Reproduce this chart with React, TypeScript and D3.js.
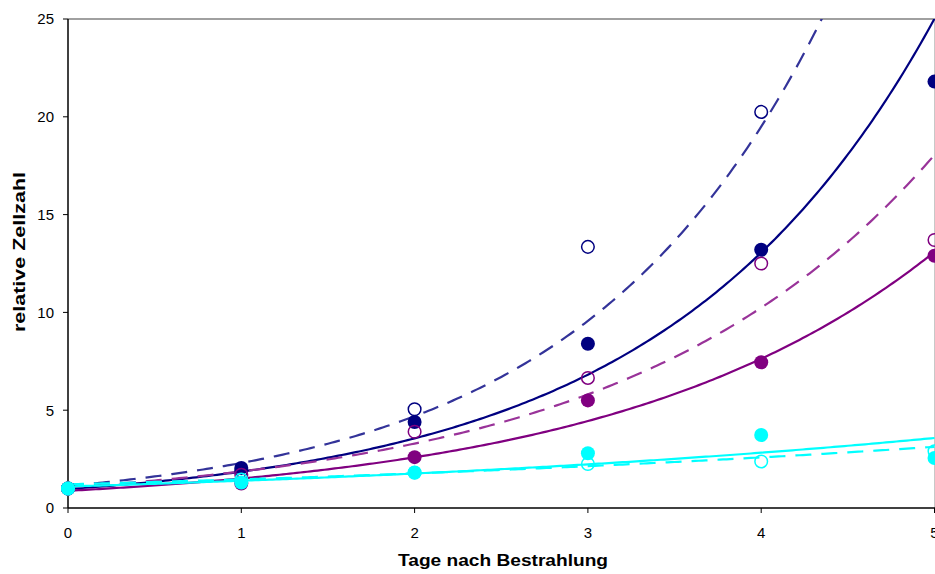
import * as d3 from 'd3'

const DAYS = [0, 1, 2, 3, 4, 5]
const Y_TICKS = [0, 5, 10, 15, 20, 25]
const X_TICKS = [0, 1, 2, 3, 4, 5]

// measured relative cell counts (filled = solid marker, open = ring marker)
const NAVY_FILLED = [1.0, 2.05, 4.4, 8.4, 13.2, 21.8]
const NAVY_OPEN = [1.0, 1.9, 5.05, 13.35, 20.25, null]
const PURPLE_FILLED = [1.0, 1.25, 2.6, 5.5, 7.45, 12.9]
const PURPLE_OPEN = [1.0, 1.7, 3.9, 6.65, 12.5, 13.7]
const CYAN_FILLED = [1.0, 1.3, 1.82, 2.8, 3.73, 2.56]
const CYAN_OPEN = [1.0, 1.45, 1.8, 2.25, 2.38, 2.9]

// exponential trendlines y = a * exp(b * x)
const TREND_NAMES = ['navySolid', 'navyDash', 'purpleSolid', 'purpleDash', 'cyanSolid', 'cyanDash']
const TREND_A = [0.97, 1.13, 0.88, 1.06, 1.1, 1.21]
const TREND_B = [0.65, 0.712, 0.54, 0.567, 0.236, 0.19]

const NAVY = '#000080'
const PURPLE = '#800080'
const CYAN = '#00FFFF'

const width = 935
const height = 574
const left = 68
const right = 934.5
const top = 19
const bottom = 508

export default function App() {
  const x = d3.scaleLinear().domain([0, 5]).range([left, right])
  const y = d3.scaleLinear().domain([0, 25]).range([bottom, top])

  // drawing order: cyan filled last so it sits on top at day 0
  const series = [
    { values: NAVY_FILLED, color: NAVY, filled: true },
    { values: NAVY_OPEN, color: NAVY, filled: false },
    { values: PURPLE_FILLED, color: PURPLE, filled: true },
    { values: PURPLE_OPEN, color: PURPLE, filled: false },
    { values: CYAN_OPEN, color: CYAN, filled: false },
    { values: CYAN_FILLED, color: CYAN, filled: true },
  ]

  const trendStyle = {
    navySolid: { color: NAVY, dash: null },
    navyDash: { color: '#333399', dash: '16,10' },
    purpleSolid: { color: PURPLE, dash: null },
    purpleDash: { color: '#993399', dash: '16,10' },
    cyanSolid: { color: CYAN, dash: null },
    cyanDash: { color: CYAN, dash: '16,10' },
  }

  const xs = d3.range(0, 5.0001, 0.02)
  const line = d3.line<number[]>().x(d => x(d[0])).y(d => y(d[1]))

  return (
    <div>
      <style>{`body{margin:0}`}</style>
      <svg width={width} height={height} style={{ display: 'block', fontFamily: 'Arial, "Liberation Sans", sans-serif' }}>
        <defs>
          <clipPath id="plot">
            <rect x={left} y={top} width={width - left} height={bottom - top} />
          </clipPath>
        </defs>
        <rect width={width} height={height} fill="white" />

        {/* frame */}
        <line x1={left} x2={width} y1={top} y2={top} stroke="#808080" strokeWidth={1.5} />
        <line x1={width - 0.5} x2={width - 0.5} y1={top} y2={bottom} stroke="#c8c8c8" strokeWidth={1} />

        {/* axes */}
        <line x1={left} x2={left} y1={top} y2={bottom} stroke="black" strokeWidth={1.5} />
        <line x1={left} x2={width} y1={bottom} y2={bottom} stroke="black" strokeWidth={1.5} />

        <g clipPath="url(#plot)">
          {/* trendlines */}
          {TREND_NAMES.map((name, i) => {
            const pts = xs.map(t => [t, TREND_A[i] * Math.exp(TREND_B[i] * t)])
            const st = trendStyle[name]
            return (
              <path
                key={name}
                d={line(pts) || ''}
                fill="none"
                stroke={st.color}
                strokeWidth={2.2}
                strokeDasharray={st.dash || undefined}
              />
            )
          })}
        </g>

        {/* markers */}
        {series.map((s, si) => (
          <g key={si}>
            {s.values.map((v, i) => v == null ? null : (
              <circle
                key={i}
                cx={x(DAYS[i])}
                cy={y(v)}
                r={s.filled ? 7 : 6.3}
                fill={s.filled ? s.color : 'none'}
                stroke={s.color}
                strokeWidth={s.filled ? 0 : 1.5}
              />
            ))}
          </g>
        ))}

        {Y_TICKS.map(t => (
          <g key={`y${t}`}>
            <line x1={left - 5} x2={left} y1={y(t)} y2={y(t)} stroke="black" strokeWidth={1} />
            <text x={54} y={y(t)} dy="0.36em" textAnchor="end" fontSize={15} fill="black">{t}</text>
          </g>
        ))}
        {X_TICKS.map(t => (
          <g key={`x${t}`}>
            <line x1={x(t)} x2={x(t)} y1={bottom} y2={bottom + 5} stroke="black" strokeWidth={1} />
            <text x={x(t)} y={538} textAnchor="middle" fontSize={15} fill="black">{t}</text>
          </g>
        ))}

        <text
          x={398}
          y={566}
          fontSize={17}
          fontWeight="bold"
          fill="black"
          textLength={210}
          lengthAdjust="spacingAndGlyphs"
        >
          Tage nach Bestrahlung
        </text>
        <text
          transform={`translate(25, 332) rotate(-90)`}
          fontSize={17}
          fontWeight="bold"
          fill="black"
          textLength={160}
          lengthAdjust="spacingAndGlyphs"
        >
          relative Zellzahl
        </text>
      </svg>
    </div>
  )
}
